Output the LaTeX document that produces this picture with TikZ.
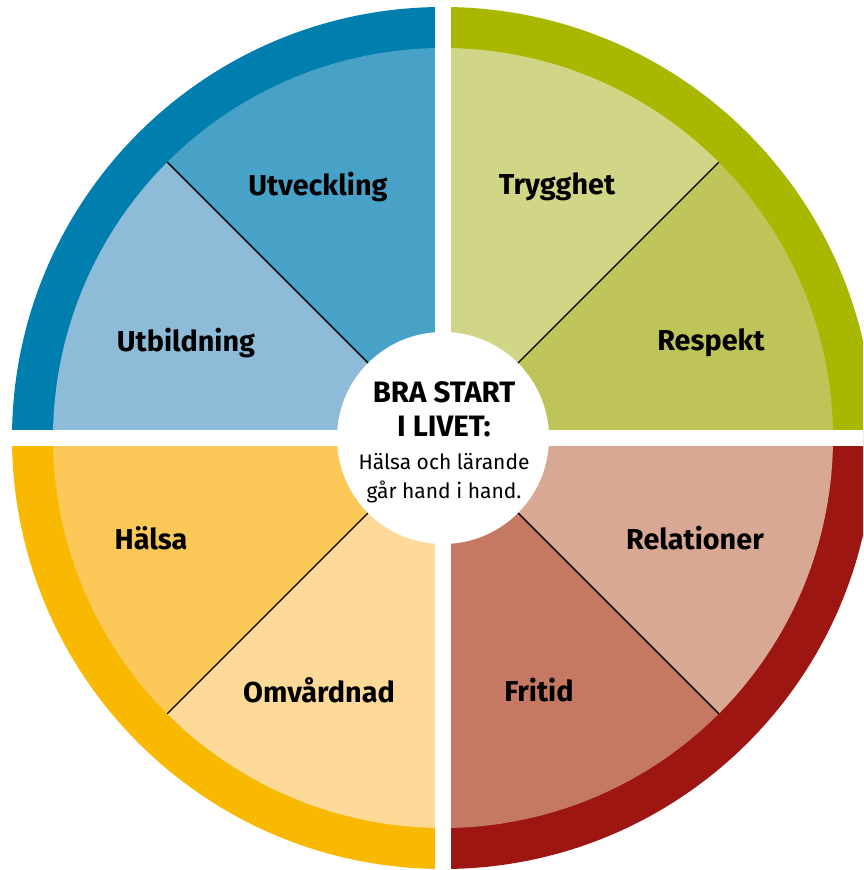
\documentclass[tikz,border=0pt]{standalone}
\usepackage{fontspec}
\setmainfont{Fira Sans}
\usetikzlibrary{positioning}
\definecolor{blueRing}{RGB}{0,126,174}
\definecolor{blueDark}{RGB}{72,162,200}
\definecolor{blueLight}{RGB}{141,187,216}
\definecolor{greenRing}{RGB}{170,183,0}
\definecolor{greenLight}{RGB}{209,213,134}
\definecolor{greenDark}{RGB}{190,196,88}
\definecolor{yellowRing}{RGB}{248,185,0}
\definecolor{yellowDark}{RGB}{252,200,88}
\definecolor{yellowLight}{RGB}{253,218,152}
\definecolor{redRing}{RGB}{158,22,18}
\definecolor{redLight}{RGB}{217,168,149}
\definecolor{redDark}{RGB}{197,120,98}
\tikzstyle{label} = [font=\fontsize{28.8}{30}\selectfont\bfseries, text=black]
\tikzstyle{title} = [font=\fontsize{29.5}{34}\selectfont\bfseries, align=center]
\tikzstyle{subtitle} = [font=\fontsize{21}{29}\selectfont, align=center]
\tikzstyle{divider} = [draw=black, line width=1.4pt]
\tikzstyle{hub} = [circle, fill=white, minimum size=212pt, inner sep=0pt]

\begin{document}
\begin{tikzpicture}[x=1pt, y=1pt]
	\useasboundingbox (0,0) rectangle (863,870);
	\clip (0,0) rectangle (863,870);
	\coordinate (centre) at (443,432);
	% Outer ring
	\fill[blueRing] (centre) -- ++(90:431pt) arc[start angle=90, end angle=180, radius=431pt] -- cycle;
	\fill[greenRing] (centre) -- ++(0:431pt) arc[start angle=0, end angle=90, radius=431pt] -- cycle;
	\fill[yellowRing] (centre) -- ++(180:431pt) arc[start angle=180, end angle=270, radius=431pt] -- cycle;
	\fill[redRing] (centre) -- ++(270:431pt) arc[start angle=270, end angle=360, radius=431pt] -- cycle;
	% Inner sectors
	\fill[blueDark] (centre) -- ++(90:390pt) arc[start angle=90, end angle=135, radius=390pt] -- cycle;
	\fill[blueLight] (centre) -- ++(135:390pt) arc[start angle=135, end angle=180, radius=390pt] -- cycle;
	\fill[greenLight] (centre) -- ++(45:390pt) arc[start angle=45, end angle=90, radius=390pt] -- cycle;
	\fill[greenDark] (centre) -- ++(0:390pt) arc[start angle=0, end angle=45, radius=390pt] -- cycle;
	\fill[yellowDark] (centre) -- ++(180:390pt) arc[start angle=180, end angle=225, radius=390pt] -- cycle;
	\fill[yellowLight] (centre) -- ++(225:390pt) arc[start angle=225, end angle=270, radius=390pt] -- cycle;
	\fill[redDark] (centre) -- ++(270:390pt) arc[start angle=270, end angle=315, radius=390pt] -- cycle;
	\fill[redLight] (centre) -- ++(315:390pt) arc[start angle=315, end angle=360, radius=390pt] -- cycle;
	% Dividers
	\foreach \a in {45,135,225,315}
		\draw[divider] (centre) ++(\a:100pt) -- +(\a:290pt);
	% White cross
	\fill[white] (435,0) rectangle (451,870);
	\fill[white] (0,424) rectangle (863,440);
	% Place nodes
	\node[hub] (middle) at (centre) {};
	\node[title] (motto) at (444,461) {BRA START\\I LIVET:};
	\node[subtitle] (claim) at (444,392) {Hälsa och lärande\\går hand i hand.};
	\node[label] (utveckling) at (318,683) {Utveckling};
	\node[label] (utbildning) at (186,527) {Utbildning};
	\node[label] (trygghet) at (557,683) {Trygghet};
	\node[label] (respekt) at (711,527) {Respekt};
	\node[label] (halsa) at (151,332) {Hälsa};
	\node[label] (omvardnad) at (319,180) {Omvårdnad};
	\node[label] (relationer) at (695,332) {Relationer};
	\node[label] (fritid) at (539,180) {Fritid};
\end{tikzpicture}
\end{document}
